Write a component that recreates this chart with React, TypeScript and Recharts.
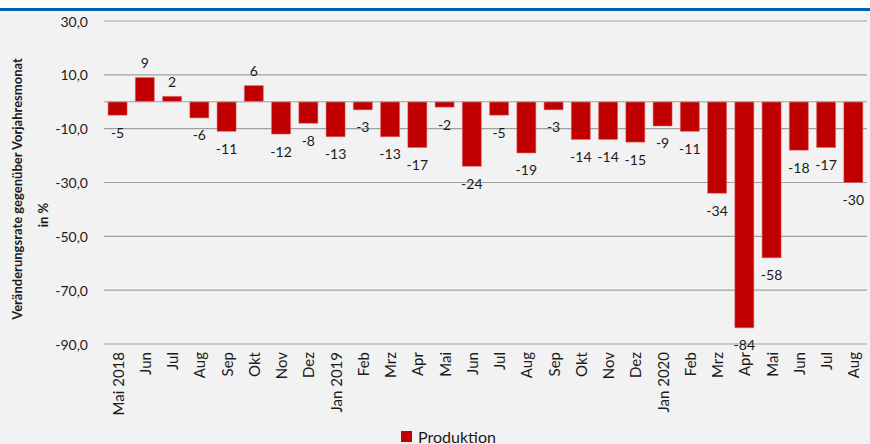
import React from 'react';
import {
  BarChart,
  Bar,
  XAxis,
  YAxis,
  CartesianGrid,
  ReferenceLine,
  LabelList,
  Legend
} from 'recharts';

const months = [
  'Mai 2018', 'Jun', 'Jul', 'Aug', 'Sep', 'Okt', 'Nov', 'Dez',
  'Jan 2019', 'Feb', 'Mrz', 'Apr', 'Mai', 'Jun', 'Jul', 'Aug', 'Sep', 'Okt', 'Nov', 'Dez',
  'Jan 2020', 'Feb', 'Mrz', 'Apr', 'Mai', 'Jun', 'Jul', 'Aug'
];
const produktion = [
  -5, 9, 2, -6, -11, 6, -12, -8,
  -13, -3, -13, -17, -2, -24, -5, -19, -3, -14, -14, -15,
  -9, -11, -34, -84, -58, -18, -17, -30
];
const yTicks = [30, 10, -10, -30, -50, -70, -90];

const data = months.map((m, i) => ({ month: m, idx: i, produktion: produktion[i] }));

const FONT = 'Lato, "Open Sans", sans-serif';
const TEXT = '#1a1a1a';
const RED = '#c00000';

const YTick = (props: any) => {
  const { y, payload } = props;
  return (
    <text x={88} y={y} textAnchor="end" dominantBaseline="central" fontSize={14} fill={TEXT} fontFamily={FONT}>
      {payload.value.toFixed(1).replace('.', ',')}
    </text>
  );
};

const XTick = (props: any) => {
  const { x, y, payload } = props;
  return (
    <text
      transform={`translate(${x},${y}) rotate(-90)`}
      textAnchor="end"
      dominantBaseline="central"
      fontSize={15}
      fill={TEXT}
      fontFamily={FONT}
    >
      {months[payload.value]}
    </text>
  );
};

const ValueLabel = (props: any) => {
  const { x, y, width, height, value } = props;
  const top = Math.min(y, y + height);
  const bottom = Math.max(y, y + height);
  const ly = value >= 0 ? top - 15 : bottom + 17;
  return (
    <text x={x + width / 2} y={ly} textAnchor="middle" dominantBaseline="central" fontSize={14} fill={TEXT} fontFamily={FONT}>
      {value}
    </text>
  );
};

const LegendContent = () => (
  <div style={{ display: 'flex', justifyContent: 'center', alignItems: 'center', height: 20, fontFamily: FONT, fontSize: 16, color: TEXT, paddingLeft: 30 }}>
    <span style={{ display: 'inline-block', width: 11, height: 11, background: RED, marginRight: 6 }} />
    <span>Produktion</span>
  </div>
);

const App: React.FC = () => {
  return (
    <div style={{ position: 'relative', width: 870, height: 444, background: '#f2f2f2', overflow: 'hidden' }}>
      <style>{'body{margin:0}'}</style>
      <div style={{ position: 'absolute', left: 0, top: 0, width: 870, height: 8, background: '#ffffff' }} />
      <div style={{ position: 'absolute', left: 0, top: 8, width: 870, height: 3, background: '#0063b0' }} />
      <svg width={60} height={444} style={{ position: 'absolute', left: 0, top: 0 }}>
        <text transform="translate(17,189) rotate(-90)" textAnchor="middle" dominantBaseline="central" fontSize={13} fontWeight="bold" fill={TEXT} fontFamily={FONT}>
          Veränderungsrate gegenüber Vorjahresmonat
        </text>
        <text transform="translate(43,215) rotate(-90)" textAnchor="middle" dominantBaseline="central" fontSize={13} fontWeight="bold" fill={TEXT} fontFamily={FONT}>
          in %
        </text>
      </svg>
      <div style={{ position: 'absolute', left: 0, top: 0 }}>
        <BarChart
          width={870}
          height={444}
          data={data}
          margin={{ top: 21, right: 3, left: 0, bottom: 0 }}
          barCategoryGap="15%"
        >
          <CartesianGrid vertical={false} stroke="#a0a0a0" strokeWidth={1.2} />
          <XAxis
            dataKey="idx"
            type="category"
            height={80}
            tickLine={false}
            axisLine={false}
            interval={0}
            tick={<XTick />}
          />
          <YAxis
            width={104}
            domain={[-90, 30]}
            ticks={yTicks}
            tickLine={false}
            axisLine={false}
            tick={<YTick />}
          />
          <ReferenceLine y={0} stroke="#a0a0a0" strokeWidth={1.2} />
          <Legend verticalAlign="bottom" content={<LegendContent />} wrapperStyle={{ bottom: -2 }} />
          <Bar dataKey="produktion" fill={RED} stroke="#e06666" strokeWidth={0.5} isAnimationActive={false}>
            <LabelList dataKey="produktion" content={<ValueLabel />} />
          </Bar>
        </BarChart>
      </div>
    </div>
  );
};

export default App;
